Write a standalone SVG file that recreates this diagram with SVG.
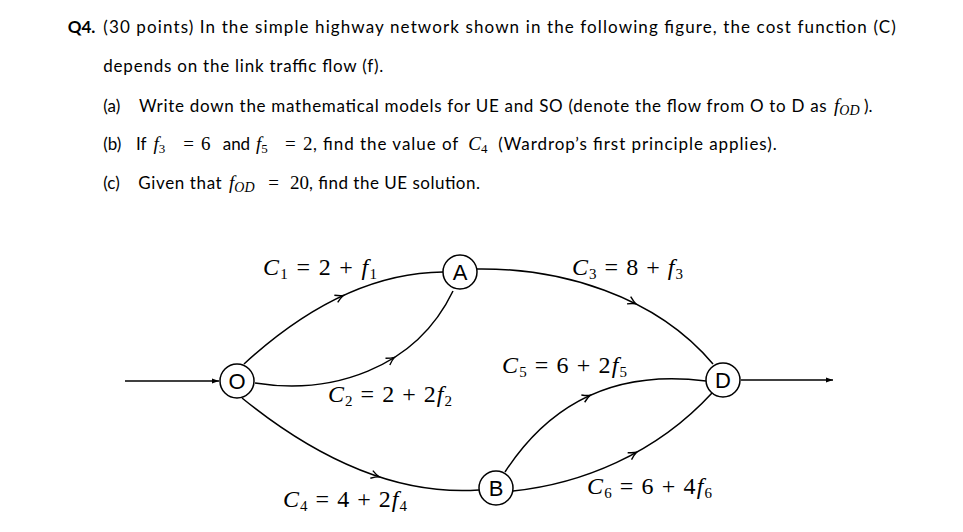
<svg xmlns="http://www.w3.org/2000/svg" xmlns:xlink="http://www.w3.org/1999/xlink" width="963" height="532" viewBox="0 0 963 532">
<style>
.t{font-family:Lato,"Liberation Sans",sans-serif;font-size:17px;fill:#000}
.b{font-weight:bold}
.mt{font-family:"Liberation Serif",serif;font-size:19px;fill:#000}
.m{font-family:"Liberation Serif",serif;font-size:24px;fill:#000}
.i{font-style:italic}
.s{font-size:15px}
.ss{font-size:13px}
.so{font-size:14px}
.edge{fill:none;stroke:#000;stroke-width:1.5}
.node circle{fill:#fff;stroke:#000;stroke-width:1.5}
.node text{font-family:"Liberation Sans",Arial,sans-serif;font-size:22px;text-anchor:middle;fill:#000}
</style>
<defs>
<marker id="tri" viewBox="0 0 10 10" refX="10" refY="5" markerWidth="7" markerHeight="7" orient="auto" markerUnits="userSpaceOnUse"><path d="M0,1.5 L10,5 L0,8.5 z" fill="#000"/></marker>
<path id="chev" d="M-8,-4 Q-3,-0.8 0,0 Q-3,0.8 -8,4" fill="none" stroke="#000" stroke-width="1.4"/>
</defs>
<rect width="963" height="532" fill="#fff"/>

<g id="question">
<text class="t b" x="67.7" y="33">Q4.</text>
<text class="t" x="103.3" y="33" textLength="792.4" lengthAdjust="spacing">(30 points) In the simple highway network shown in the following figure, the cost function (C)</text>
<text class="t" x="103.3" y="72.3" textLength="280" lengthAdjust="spacing">depends on the link traffic flow (f).</text>

<text class="t" x="103.3" y="111.7">(a)</text>
<text class="t" x="139" y="111.7" textLength="687.7" lengthAdjust="spacing">Write down the mathematical models for UE and SO (denote the flow from O to D as</text>
<text class="mt" x="834" y="111.7"><tspan class="i">f</tspan><tspan class="so i" dy="3">OD</tspan></text>
<text class="t" x="864" y="111.7">).</text>

<text class="t" x="103.3" y="150">(b)</text>
<text class="t" x="136" y="150">If</text>
<text class="mt" x="153.5" y="150"><tspan class="i">f</tspan><tspan class="ss" dy="3">3</tspan></text>
<text class="mt" x="183.3" y="150">=</text>
<text class="mt" x="201" y="150">6</text>
<text class="t" x="222.7" y="150">and</text>
<text class="mt" x="256" y="150"><tspan class="i">f</tspan><tspan class="ss" dy="3">5</tspan></text>
<text class="mt" x="285" y="150">=</text>
<text class="mt" x="303" y="150">2</text>
<text class="t" x="313" y="150" textLength="145.3" lengthAdjust="spacing">, find the value of</text>
<text class="mt" x="468.3" y="150"><tspan class="i">C</tspan><tspan class="ss" dy="3">4</tspan></text>
<text class="t" x="498.3" y="150" textLength="278.4" lengthAdjust="spacing">(Wardrop’s first principle applies).</text>

<text class="t" x="103.3" y="189">(c)</text>
<text class="t" x="138.3" y="189" textLength="83.4" lengthAdjust="spacing">Given that</text>
<text class="mt" x="229" y="189"><tspan class="i">f</tspan><tspan class="so i" dy="3">OD</tspan></text>
<text class="mt" x="268.3" y="189">=</text>
<text class="mt" x="290" y="189">20</text>
<text class="t" x="309" y="189" textLength="171" lengthAdjust="spacing">, find the UE solution.</text>
</g>

<g id="connectors">
<line class="edge" x1="125" y1="381" x2="219" y2="381" marker-end="url(#tri)"/>
<line class="edge" x1="741" y1="380" x2="833" y2="380" marker-end="url(#tri)"/>
<path class="edge" d="M244,364 Q343,273 443,272"/>
<path class="edge" d="M255,383 C330,395 415,370 453,291"/>
<path class="edge" d="M477,269 C560,268 655,295 713,364"/>
<path class="edge" d="M242,398 Q365,498 479,490"/>
<path class="edge" d="M505,472 Q575,364 706,381"/>
<path class="edge" d="M513,491 C580,484 655,455 712,393"/>
<use xlink:href="#chev" transform="translate(343.3,295.5) rotate(-24.8)"/>
<use xlink:href="#chev" transform="translate(394.4,357.4) rotate(-32.5)"/>
<use xlink:href="#chev" transform="translate(636,303.9) rotate(26.9)"/>
<use xlink:href="#chev" transform="translate(379.2,476.9) rotate(18)"/>
<use xlink:href="#chev" transform="translate(590.3,395.3) rotate(-24.4)"/>
<use xlink:href="#chev" transform="translate(636.6,452.3) rotate(-29)"/>
</g>

<g id="labels">
<text class="m" x="263" y="275" textLength="114" lengthAdjust="spacing"><tspan class="i">C</tspan><tspan class="s" dy="4">1</tspan><tspan dy="-4"> = 2 + </tspan><tspan class="i">f</tspan><tspan class="s" dy="4">1</tspan></text>
<text class="m" x="328" y="402" textLength="124" lengthAdjust="spacing"><tspan class="i">C</tspan><tspan class="s" dy="4">2</tspan><tspan dy="-4"> = 2 + 2</tspan><tspan class="i">f</tspan><tspan class="s" dy="4">2</tspan></text>
<text class="m" x="572" y="275" textLength="111" lengthAdjust="spacing"><tspan class="i">C</tspan><tspan class="s" dy="4">3</tspan><tspan dy="-4"> = 8 + </tspan><tspan class="i">f</tspan><tspan class="s" dy="4">3</tspan></text>
<text class="m" x="283" y="507" textLength="124" lengthAdjust="spacing"><tspan class="i">C</tspan><tspan class="s" dy="4">4</tspan><tspan dy="-4"> = 4 + 2</tspan><tspan class="i">f</tspan><tspan class="s" dy="4">4</tspan></text>
<text class="m" x="502" y="373" textLength="125" lengthAdjust="spacing"><tspan class="i">C</tspan><tspan class="s" dy="4">5</tspan><tspan dy="-4"> = 6 + 2</tspan><tspan class="i">f</tspan><tspan class="s" dy="4">5</tspan></text>
<text class="m" x="587" y="494" textLength="125" lengthAdjust="spacing"><tspan class="i">C</tspan><tspan class="s" dy="4">6</tspan><tspan dy="-4"> = 6 + 4</tspan><tspan class="i">f</tspan><tspan class="s" dy="4">6</tspan></text>
</g>

<g id="node-O" class="node"><circle cx="237" cy="381" r="17"/><text x="237" y="389">O</text></g>
<g id="node-A" class="node"><circle cx="460" cy="272" r="17"/><text x="460" y="280">A</text></g>
<g id="node-B" class="node"><circle cx="496" cy="488" r="17"/><text x="496" y="496">B</text></g>
<g id="node-D" class="node"><circle cx="723" cy="380" r="17"/><text x="723" y="388">D</text></g>
</svg>
